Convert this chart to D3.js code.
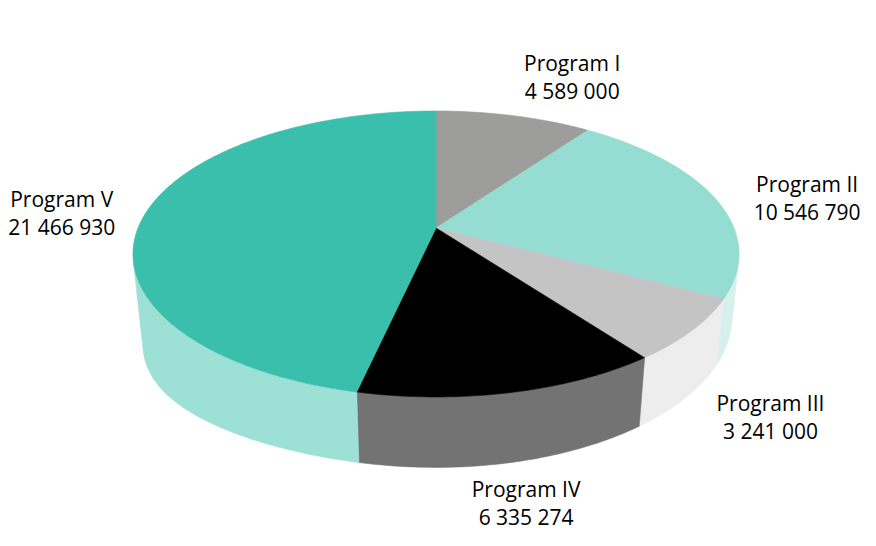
<!DOCTYPE html>
<meta charset="utf-8">
<style>
body { margin: 0; background: #fff; }
text {
  font-family: "Open Sans", "Noto Sans", sans-serif;
  font-size: 21px;
  fill: #000;
}
</style>
<svg width="876" height="546"></svg>
<script src="https://d3js.org/d3.v7.min.js"></script>
<script>

var programs = ["Program I", "Program II", "Program III", "Program IV", "Program V"];
var amounts = [4589000, 10546790, 3241000, 6335274, 21466930];
var topColors = ["#9d9d9b", "#95ddd2", "#c4c4c4", "#000000", "#3bbfad"];
var sideColors = ["#bdbdbb", "#d7f0ed", "#ededed", "#737373", "#9de0d6"];

// label nudges off the projected mid-angle point (layout only)
var labelShift = [[39, -10], [13, 10], [-13, 52], [-15, 47], [1, 5]];

var svg = d3.select("svg");

// simple perspective camera looking down on a flat cylinder
var cx = 436, cy = 228,
    focal = 1453.7,
    dist = 1,
    radius = 0.205,
    thick = 0.049,
    tilt = Math.asin(0.464);

function project(theta, r, y) {
  var X = r * Math.sin(theta), Z = r * Math.cos(theta), Y = y;
  var xc = X,
      yc = Y * Math.cos(tilt) + Z * Math.sin(tilt),
      zc = dist + Z * Math.cos(tilt) - Y * Math.sin(tilt);
  return [cx + focal * xc / zc, cy - focal * yc / zc];
}

// the original drawing has a deeper wall on the left side
function wallDepth(theta) {
  var s = Math.max(0, -Math.sin(theta));
  return thick * (1 + 0.45 * s * s * s);
}

function arcPoints(a0, a1, r, bottom) {
  var n = Math.max(2, Math.ceil((a1 - a0) * 80));
  return d3.range(n + 1).map(function(i) {
    var t = a0 + (a1 - a0) * i / n;
    return project(t, r, bottom ? -wallDepth(t) : 0);
  });
}

var data = programs.map(function(p, i) {
  return {name: p, value: amounts[i], top: topColors[i], side: sideColors[i]};
});

var arcs = d3.pie().sort(null).value(function(d) { return d.value; })(data);

var line = d3.line();
var fmt = d3.formatLocale({decimal: ",", thousands: " ", grouping: [3], currency: ["", ""]}).format(",");

// visible part of the outer wall
var c = radius / (dist * Math.cos(tilt));
var vis0 = Math.acos(-c), vis1 = 2 * Math.PI - vis0;

var walls = svg.append("g");
arcs.forEach(function(a) {
  var s = Math.max(a.startAngle, vis0), e = Math.min(a.endAngle, vis1);
  if (e <= s) return;
  var pts = arcPoints(s, e, radius, false).concat(arcPoints(s, e, radius, true).reverse());
  walls.append("path")
      .attr("d", line(pts) + "Z")
      .attr("fill", a.data.side)
      .attr("stroke", a.data.side)
      .attr("stroke-width", 0.6);
});

var tops = svg.append("g");
arcs.forEach(function(a) {
  var pts = [project(0, 0, 0)].concat(arcPoints(a.startAngle, a.endAngle, radius, false));
  tops.append("path")
      .attr("d", line(pts) + "Z")
      .attr("fill", a.data.top)
      .attr("stroke", a.data.top)
      .attr("stroke-width", 0.6);
});

var labels = svg.append("g");
arcs.forEach(function(a, i) {
  var mid = (a.startAngle + a.endAngle) / 2;
  var p = project(mid, radius * 1.3, 0);
  var x = p[0] + labelShift[i][0], y = p[1] + labelShift[i][1];
  var t = labels.append("text").attr("text-anchor", "middle");
  t.append("tspan").attr("x", x).attr("y", y - 7).text(a.data.name);
  t.append("tspan").attr("x", x).attr("y", y + 21).text(fmt(a.data.value));
});

</script>
